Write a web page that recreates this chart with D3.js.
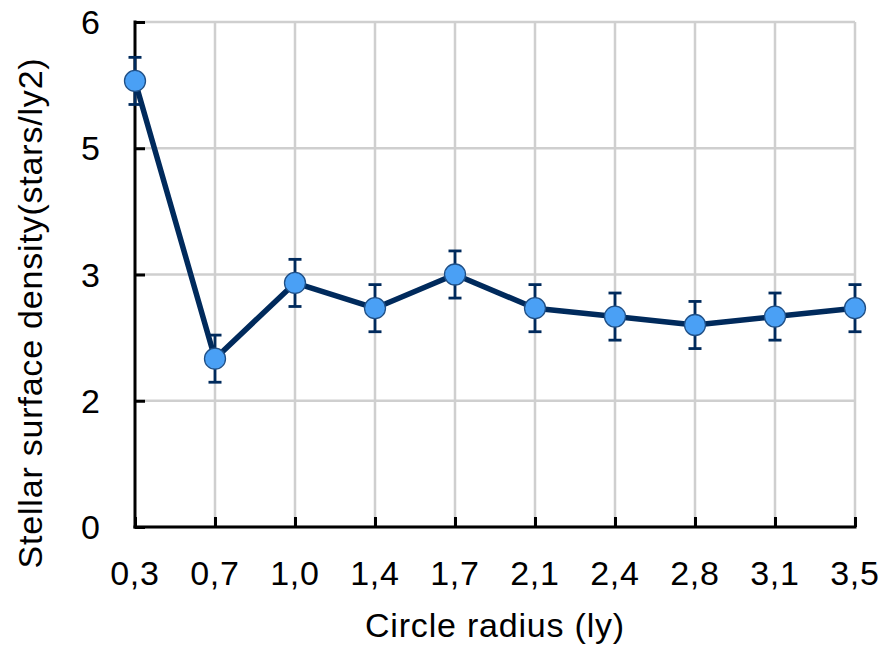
<!DOCTYPE html>
<html>
<head>
<meta charset="utf-8">
<script src="https://cdn.jsdelivr.net/npm/d3@7"></script>
<style>
  html, body { margin: 0; padding: 0; background: #fff; }
  svg { display: block; font-family: "Liberation Sans", Arial, Helvetica, sans-serif; }
</style>
</head>
<body>
<svg id="chart" width="887" height="650"></svg>
<script>
// Circle radius categories (ly)
const radii = ["0,3", "0,7", "1,0", "1,4", "1,7", "2,1", "2,4", "2,8", "3,1", "3,5"];
// Mean stellar surface density per radius (stars/ly2)
const density = [5.3, 2.0, 2.9, 2.6, 3.0, 2.6, 2.5, 2.4, 2.5, 2.6];
// Symmetric uncertainty on each density value
const densityErr = [0.28, 0.28, 0.28, 0.28, 0.28, 0.28, 0.28, 0.28, 0.28, 0.28];
// Y axis tick values (labels are rounded to whole numbers)
const yTicks = [0, 1.5, 3, 4.5, 6];

const svg = d3.select("#chart");
const plotL = 135, plotR = 855, plotT = 22, plotB = 527;
const fontSize = 34, spacing = "0.8px";

const x = d3.scalePoint().domain(radii).range([plotL, plotR]).padding(0);
const y = d3.scaleLinear().domain([0, 6]).range([plotB, plotT]);

const navy = "#002a5c";
const grid = "#cfcfcf";

// Gridlines
const g = svg.append("g");
g.selectAll("line.hgrid").data(yTicks).join("line")
  .attr("class", "hgrid")
  .attr("x1", plotL).attr("x2", plotR)
  .attr("y1", d => y(d)).attr("y2", d => y(d))
  .attr("stroke", grid).attr("stroke-width", 2.5);
g.selectAll("line.vgrid").data(radii.slice(1)).join("line")
  .attr("class", "vgrid")
  .attr("x1", d => x(d)).attr("x2", d => x(d))
  .attr("y1", plotT).attr("y2", plotB)
  .attr("stroke", grid).attr("stroke-width", 2.5);

// Y axis (ticks point inward)
const yAxis = svg.append("g")
  .attr("transform", `translate(${plotL},0)`)
  .call(d3.axisRight(y).tickValues(yTicks).tickSize(10).tickFormat(""));
yAxis.select(".domain").remove();
yAxis.selectAll(".tick line").attr("stroke", "#000").attr("stroke-width", 3);
svg.append("line")
  .attr("x1", plotL).attr("x2", plotL).attr("y1", plotT - 1.5).attr("y2", plotB + 1.5)
  .attr("stroke", "#000").attr("stroke-width", 3);

svg.append("g").selectAll("text").data(yTicks).join("text")
  .attr("x", 100).attr("y", d => y(d))
  .attr("text-anchor", "end").attr("dominant-baseline", "central")
  .attr("font-size", fontSize).attr("fill", "#000")
  .text(d => d3.format(".0f")(Math.floor(d + 0.5)));

// X axis (ticks point inward)
const xAxis = svg.append("g")
  .attr("transform", `translate(0,${plotB})`)
  .call(d3.axisTop(x).tickSize(10).tickFormat(""));
xAxis.select(".domain").remove();
xAxis.selectAll(".tick line").attr("stroke", "#000").attr("stroke-width", 3);
svg.append("line")
  .attr("x1", plotL - 1.5).attr("x2", plotR + 1.5).attr("y1", plotB).attr("y2", plotB)
  .attr("stroke", "#000").attr("stroke-width", 3);

svg.append("g").selectAll("text").data(radii).join("text")
  .attr("x", d => x(d)).attr("y", 585)
  .attr("text-anchor", "middle")
  .attr("font-size", fontSize).attr("letter-spacing", spacing).attr("fill", "#000")
  .text(d => d);

// Axis titles
svg.append("text")
  .attr("x", (plotL + plotR) / 2).attr("y", 637)
  .attr("text-anchor", "middle").attr("font-size", fontSize).attr("letter-spacing", spacing)
  .text("Circle radius (ly)");
svg.append("text")
  .attr("transform", `translate(42,313) rotate(-90)`)
  .attr("text-anchor", "middle").attr("font-size", fontSize).attr("letter-spacing", spacing)
  .text("Stellar surface density(stars/ly2)");

// Error bars
const eb = svg.append("g").attr("stroke", navy).attr("stroke-width", 2.8);
radii.forEach((r, i) => {
  const cx = x(r), hi = y(density[i] + densityErr[i]), lo = y(density[i] - densityErr[i]);
  eb.append("line").attr("x1", cx).attr("x2", cx).attr("y1", hi).attr("y2", lo);
  eb.append("line").attr("x1", cx - 6.5).attr("x2", cx + 6.5).attr("y1", hi).attr("y2", hi);
  eb.append("line").attr("x1", cx - 6.5).attr("x2", cx + 6.5).attr("y1", lo).attr("y2", lo);
});

// Data line
svg.append("path")
  .datum(density)
  .attr("fill", "none").attr("stroke", navy).attr("stroke-width", 5.5)
  .attr("stroke-linejoin", "round")
  .attr("d", d3.line().x((d, i) => x(radii[i])).y(d => y(d)));

// Markers
svg.append("g").selectAll("circle").data(density).join("circle")
  .attr("cx", (d, i) => x(radii[i])).attr("cy", d => y(d))
  .attr("r", 10.5)
  .attr("fill", "#4aa0f5").attr("stroke", "#1f4f86").attr("stroke-width", 1.3);
</script>
</body>
</html>
